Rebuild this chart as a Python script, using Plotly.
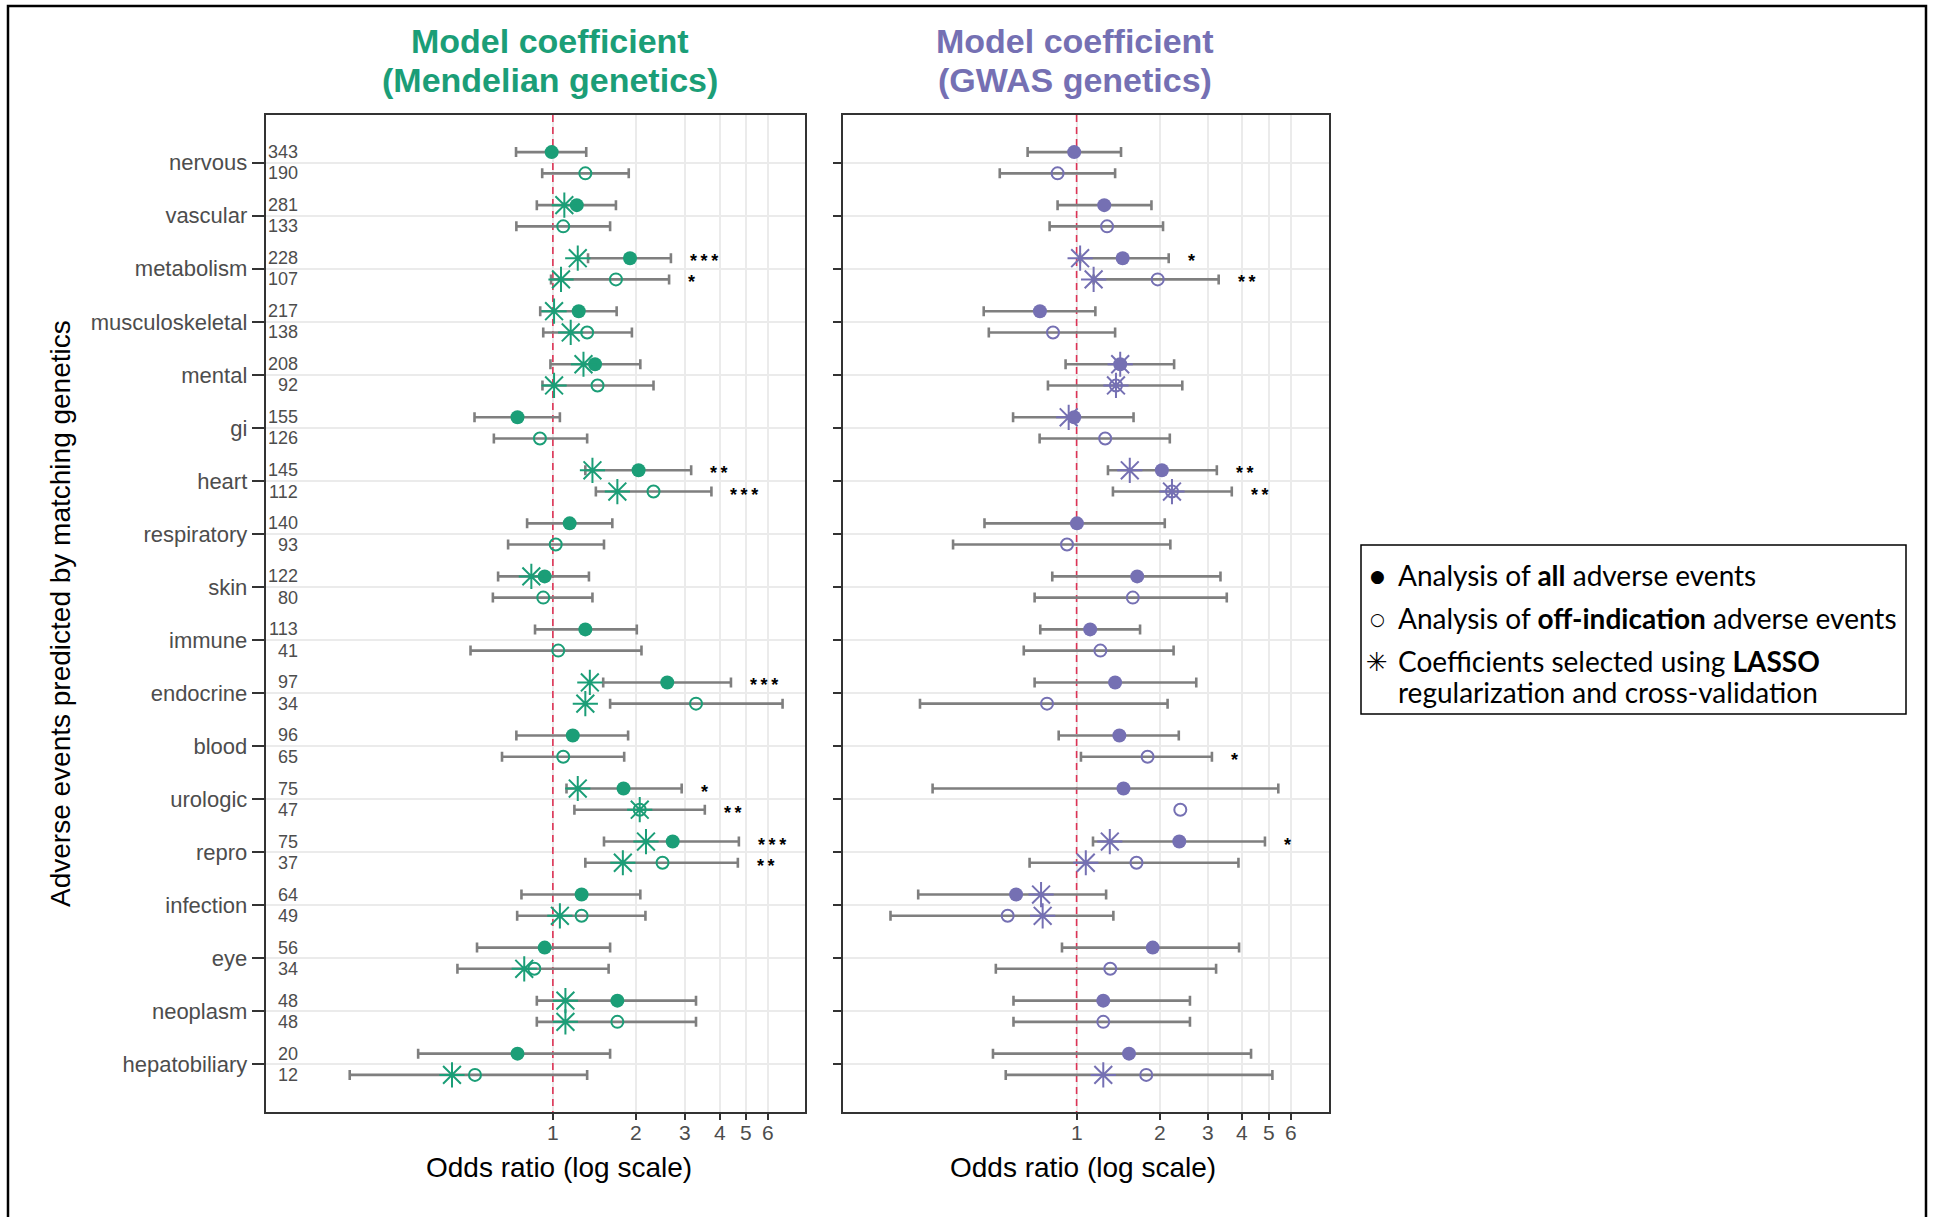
import math
import plotly.graph_objects as go

# ---------------------------------------------------------------------------
# Data: odds ratios with 95% CI per adverse-event category
# ---------------------------------------------------------------------------
categories = ["nervous", "vascular", "metabolism", "musculoskeletal", "mental", "gi",
              "heart", "respiratory", "skin", "immune", "endocrine", "blood",
              "urologic", "repro", "infection", "eye", "neoplasm", "hepatobiliary"]

# number of events behind each estimate (Mendelian panel)
n_all = [343, 281, 228, 217, 208, 155, 145, 140, 122, 113, 97, 96, 75, 75, 64, 56, 48, 20]
n_off = [190, 133, 107, 138, 92, 126, 112, 93, 80, 41, 34, 65, 47, 37, 49, 34, 48, 12]

# Mendelian genetics
mend_all_or = [0.99, 1.22, 1.90, 1.24, 1.42, 0.745, 2.04, 1.15, 0.934, 1.31, 2.59, 1.18, 1.80, 2.71, 1.27, 0.934, 1.71, 0.745]
mend_all_lo = [0.736, 0.875, 1.34, 0.90, 0.98, 0.521, 1.31, 0.807, 0.634, 0.862, 1.52, 0.738, 1.12, 1.53, 0.77, 0.532, 0.875, 0.326]
mend_all_hi = [1.32, 1.69, 2.67, 1.70, 2.07, 1.06, 3.16, 1.64, 1.35, 2.01, 4.40, 1.87, 2.92, 4.70, 2.07, 1.61, 3.29, 1.61]
mend_off_or = [1.31, 1.09, 1.69, 1.33, 1.45, 0.898, 2.31, 1.024, 0.923, 1.046, 3.29, 1.09, 2.06, 2.49, 1.27, 0.857, 1.71, 0.523]
mend_off_lo = [0.915, 0.738, 0.985, 0.923, 0.917, 0.612, 1.43, 0.689, 0.607, 0.504, 1.61, 0.655, 1.196, 1.31, 0.743, 0.452, 0.875, 0.1845]
mend_off_hi = [1.88, 1.61, 2.63, 1.93, 2.31, 1.33, 3.74, 1.53, 1.39, 2.09, 6.76, 1.81, 3.54, 4.66, 2.16, 1.59, 3.29, 1.33]
mend_lasso_all = [None, 1.10, 1.23, 1.01, 1.29, None, 1.39, None, 0.836, None, 1.36, None, 1.23, 2.17, None, None, 1.11, None]
mend_lasso_off = [None, None, 1.07, 1.16, 1.01, None, 1.71, None, None, None, 1.31, None, 2.06, 1.79, 1.06, 0.788, 1.11, 0.432]
mend_sig_all = ["", "", "***", "", "", "", "**", "", "", "", "***", "", "*", "***", "", "", "", ""]
mend_sig_off = ["", "", "*", "", "", "", "***", "", "", "", "", "", "**", "**", "", "", "", ""]

# GWAS genetics
gwas_all_or = [0.98, 1.26, 1.47, 0.736, 1.44, 0.98, 2.04, 1.003, 1.66, 1.12, 1.38, 1.43, 1.48, 2.36, 0.603, 1.89, 1.25, 1.55]
gwas_all_lo = [0.664, 0.853, 1.03, 0.46, 0.912, 0.588, 1.30, 0.463, 0.816, 0.738, 0.704, 0.861, 0.30, 1.147, 0.266, 0.885, 0.59, 0.497]
gwas_all_hi = [1.45, 1.87, 2.16, 1.17, 2.26, 1.61, 3.23, 2.09, 3.33, 1.70, 2.72, 2.35, 5.40, 4.83, 1.28, 3.89, 2.58, 4.30]
gwas_off_or = [0.853, 1.29, 1.97, 0.821, 1.39, 1.27, 2.22, 0.923, 1.60, 1.22, 0.781, 1.81, 2.38, 1.65, 0.562, 1.325, 1.25, 1.79]
gwas_off_lo = [0.526, 0.798, 1.153, 0.48, 0.787, 0.734, 1.355, 0.356, 0.704, 0.643, 0.27, 1.037, None, 0.675, 0.211, 0.509, 0.59, 0.553]
gwas_off_hi = [1.38, 2.06, 3.28, 1.38, 2.42, 2.18, 3.66, 2.19, 3.51, 2.25, 2.14, 3.10, None, 3.87, 1.36, 3.21, 2.58, 5.14]
gwas_lasso_all = [None, None, 1.03, None, 1.44, 0.936, 1.56, None, None, None, None, None, None, 1.32, 0.743, None, None, None]
gwas_lasso_off = [None, None, 1.153, None, 1.39, None, 2.22, None, None, None, None, None, None, 1.08, 0.753, None, None, 1.25]
gwas_sig_all = ["", "", "*", "", "", "", "**", "", "", "", "", "", "", "*", "", "", "", ""]
gwas_sig_off = ["", "", "**", "", "", "", "**", "", "", "", "", "*", "", "", "", "", "", ""]

x_ticks = [1, 2, 3, 4, 5, 6]

# ---------------------------------------------------------------------------
# Styling
# ---------------------------------------------------------------------------
W, H = 1937, 1217
GREEN = "#1B9E77"
PURPLE = "#7570B3"
RED = "#DD3355"
ERR = "#7F7F7F"
GRID = "#EBEBEB"
AXIS = "#333333"
TXT = "#4D4D4D"
FONT = "Liberation Sans, Arial, Helvetica, sans-serif"
LEG_FONT = "Lato, Carlito, Open Sans, sans-serif"
DODGE = 0.2


def px(x):
    return x / W


def py(y):
    return 1 - y / H


fig = go.Figure()

panels = [
    dict(xa="x", ya="y", color=GREEN,
         all_or=mend_all_or, all_lo=mend_all_lo, all_hi=mend_all_hi,
         off_or=mend_off_or, off_lo=mend_off_lo, off_hi=mend_off_hi,
         lasso_all=mend_lasso_all, lasso_off=mend_lasso_off,
         sig_all=mend_sig_all, sig_off=mend_sig_off),
    dict(xa="x2", ya="y2", color=PURPLE,
         all_or=gwas_all_or, all_lo=gwas_all_lo, all_hi=gwas_all_hi,
         off_or=gwas_off_or, off_lo=gwas_off_lo, off_hi=gwas_off_hi,
         lasso_all=gwas_lasso_all, lasso_off=gwas_lasso_off,
         sig_all=gwas_sig_all, sig_off=gwas_sig_off),
]

annotations = []
n = len(categories)
Y_LO, Y_HI = -0.9, n - 1 + 0.9

for p in panels:
    xa, ya, col = p["xa"], p["ya"], p["color"]
    common = dict(xaxis=xa, yaxis=ya, showlegend=False, hoverinfo="skip")

    # reference line at OR = 1
    fig.add_trace(go.Scatter(x=[1, 1], y=[Y_LO, Y_HI], mode="lines",
                             line=dict(color=RED, width=1.6, dash="7px,5px"), **common))

    series = [(p["all_or"], p["all_lo"], p["all_hi"], -DODGE),
              (p["off_or"], p["off_lo"], p["off_hi"], DODGE)]

    # confidence-interval whiskers
    for est, lo, hi, off in series:
        idx = [i for i in range(n) if lo[i] is not None and hi[i] is not None]
        fig.add_trace(go.Scatter(
            x=[est[i] for i in idx], y=[i + off for i in idx], mode="markers",
            marker=dict(size=2, color="rgba(0,0,0,0)"),
            error_x=dict(type="data", symmetric=False,
                         array=[hi[i] - est[i] for i in idx],
                         arrayminus=[est[i] - lo[i] for i in idx],
                         color=ERR, thickness=2.6, width=5),
            **common))

    # point estimates: all events (filled), off-indication (open)
    fig.add_trace(go.Scatter(x=p["all_or"], y=[i - DODGE for i in range(n)], mode="markers",
                             marker=dict(symbol="circle", size=14, color=col), **common))
    fig.add_trace(go.Scatter(x=p["off_or"], y=[i + DODGE for i in range(n)], mode="markers",
                             marker=dict(symbol="circle-open", size=12, color=col,
                                         line=dict(width=2, color=col)), **common))

    # LASSO-selected coefficients
    for vals, off in [(p["lasso_all"], -DODGE), (p["lasso_off"], DODGE)]:
        idx = [i for i in range(n) if vals[i] is not None]
        fig.add_trace(go.Scatter(x=[vals[i] for i in idx], y=[i + off for i in idx], mode="markers",
                                 marker=dict(symbol="asterisk-open", size=21, color=col,
                                             line=dict(width=2, color=col)), **common))

    # significance stars right of the upper CI
    for sig, hi, off in [(p["sig_all"], p["all_hi"], -DODGE), (p["sig_off"], p["off_hi"], DODGE)]:
        for i in range(n):
            if sig[i]:
                annotations.append(dict(
                    x=math.log10(hi[i]), y=i + off, xref=xa, yref=ya,
                    text="<b>%s</b>" % "\u2009".join(sig[i]), showarrow=False,
                    xanchor="left", yanchor="middle", xshift=17, yshift=-3,
                    font=dict(family=FONT, size=18, color="black")))

    # odds-ratio tick labels
    for t in x_ticks:
        annotations.append(dict(x=math.log10(t), y=py(1132), xref=xa, yref="paper",
                                text=str(t), showarrow=False, xanchor="center", yanchor="middle",
                                font=dict(family=FONT, size=21, color=TXT)))

# event counts inside the Mendelian panel
for i in range(n):
    for cnt, off in [(n_all[i], -DODGE), (n_off[i], DODGE)]:
        annotations.append(dict(
            x=px(300), y=i + off, xref="paper", yref="y", text=str(cnt),
            showarrow=False, xanchor="right", yanchor="middle",
            font=dict(family=FONT, size=18, color=TXT)))

# panel titles
for (x0, c, l1, l2) in [(550, GREEN, "Model coefficient", "(Mendelian genetics)"),
                        (1075, PURPLE, "Model coefficient", "(GWAS genetics)")]:
    for txt, yy in [(l1, 41), (l2, 80)]:
        annotations.append(dict(x=px(x0), y=py(yy), xref="paper", yref="paper",
                                text="<b>%s</b>" % txt, showarrow=False,
                                xanchor="center", yanchor="middle",
                                font=dict(family=FONT, size=34, color=c)))

# axis titles
for xc in (559, 1083):
    annotations.append(dict(x=px(xc), y=py(1167), xref="paper", yref="paper",
                            text="Odds ratio (log scale)", showarrow=False,
                            xanchor="center", yanchor="middle",
                            font=dict(family=FONT, size=28, color="black")))
annotations.append(dict(x=px(60), y=py(614), xref="paper", yref="paper",
                        text="Adverse events predicted by matching genetics",
                        showarrow=False, textangle=-90, xanchor="center", yanchor="middle",
                        font=dict(family=FONT, size=28, color="black")))

# legend box contents
leg_sym_font = dict(family="DejaVu Sans, sans-serif", color="black")
leg_rows = [
    ("●", 17, 575, "Analysis of <b>all</b> adverse events"),
    ("○", 17, 618, "Analysis of <b>off-indication</b> adverse events"),
    ("✳", 26, 661, "Coefficients selected using <b>LASSO</b>"),
    ("", 0, 692, "regularization and cross-validation"),
]
for sym, ssize, yy, txt in leg_rows:
    if sym:
        annotations.append(dict(x=px(1377), y=py(yy + 1), xref="paper", yref="paper", text=sym,
                                showarrow=False, xanchor="center", yanchor="middle",
                                font=dict(size=ssize, **leg_sym_font)))
    annotations.append(dict(x=px(1396), y=py(yy), xref="paper", yref="paper", text=txt,
                            showarrow=False, xanchor="left", yanchor="middle",
                            font=dict(family=LEG_FONT, size=28, color="black")))

shapes = [
    # legend frame
    dict(type="rect", xref="paper", yref="paper", x0=px(1361), x1=px(1906),
         y0=py(545), y1=py(714), line=dict(color="black", width=1.5)),
    # outer figure frame
    dict(type="path", xref="paper", yref="paper",
         path="M %f,%f L %f,%f L %f,%f L %f,%f" % (px(8), 0, px(8), py(6), px(1926), py(6), px(1926), 0),
         line=dict(color="black", width=2.5)),
]

x_common = dict(type="log", tickvals=x_ticks, showticklabels=False,
                ticks="outside", ticklen=6, tickwidth=1.6, tickcolor=AXIS,
                showgrid=True, gridcolor=GRID, gridwidth=2, zeroline=False,
                showline=True, mirror=True, linecolor=AXIS, linewidth=1.8)
y_common = dict(range=[Y_HI, Y_LO], tickvals=list(range(n)),
                ticks="outside", tickwidth=1.6, tickcolor=AXIS,
                showgrid=True, gridcolor=GRID, gridwidth=2, zeroline=False,
                showline=True, mirror=True, linecolor=AXIS, linewidth=1.8,
                domain=[py(1112), py(115)])

fig.update_layout(
    width=W, height=H,
    margin=dict(l=0, r=0, t=0, b=0),
    paper_bgcolor="white", plot_bgcolor="white",
    showlegend=False,
    xaxis=dict(domain=[px(265.6), px(805)], range=[-1.038, 0.911], anchor="y", **x_common),
    yaxis=dict(anchor="x", ticktext=categories, ticklen=12,
               tickfont=dict(family=FONT, size=22, color=TXT), **y_common),
    xaxis2=dict(domain=[px(842.5), px(1329)], range=[-0.85, 0.9165], anchor="y2", **x_common),
    yaxis2=dict(anchor="x2", showticklabels=False, ticklen=8, **y_common),
    annotations=annotations,
    shapes=shapes,
)

fig.write_html("out.html")
